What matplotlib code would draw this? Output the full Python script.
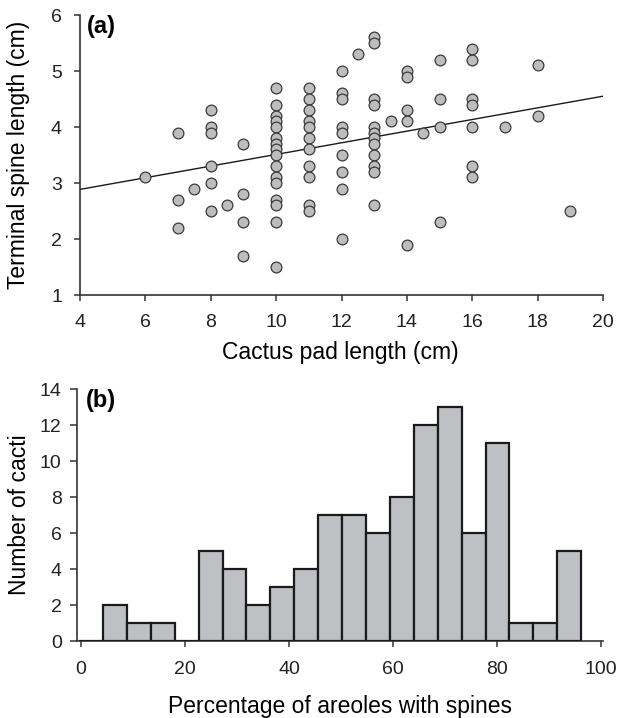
import numpy as np
import matplotlib
matplotlib.use("Agg")
import matplotlib.pyplot as plt

plt.rcParams['font.family'] = ['Liberation Sans', 'DejaVu Sans']

# (a) terminal spine length vs cactus pad length, grouped by pad length
pad_groups = [6, 7, 7.5, 8, 8.5, 9, 10, 11, 12, 12.5, 13, 13.5, 14, 14.5, 15, 16, 17, 18, 19]
spine_groups = [
    [3.1],
    [3.9, 2.7, 2.2],
    [2.9],
    [4.3, 4.0, 3.9, 3.3, 3.0, 2.5],
    [2.6],
    [3.7, 2.8, 2.3, 1.7],
    [4.7, 4.4, 4.2, 4.1, 4.0, 3.8, 3.7, 3.6, 3.5, 3.3, 3.1, 3.0, 2.7, 2.6, 2.3, 1.5],
    [4.7, 4.5, 4.3, 4.1, 4.0, 3.8, 3.6, 3.3, 3.1, 2.6, 2.5],
    [5.0, 4.6, 4.5, 4.0, 3.9, 3.5, 3.2, 2.9, 2.0],
    [5.3],
    [5.6, 5.5, 4.5, 4.4, 4.0, 3.9, 3.8, 3.7, 3.5, 3.3, 3.2, 2.6],
    [4.1],
    [5.0, 4.9, 4.3, 4.1, 1.9],
    [3.9],
    [5.2, 4.5, 4.0, 2.3],
    [5.4, 5.2, 4.5, 4.4, 4.0, 3.3, 3.1],
    [4.0],
    [5.1, 4.2],
    [2.5],
]
pad_len = np.concatenate([[x] * len(ys) for x, ys in zip(pad_groups, spine_groups)])
spine_len = np.concatenate(spine_groups)

# fitted line as drawn in the figure
fit_intercept = 2.47
fit_slope = 0.104

# (b) histogram of % areoles with spines
bin_start = -0.4
bin_width = 4.6
cacti_counts = [0, 2, 1, 1, 0, 5, 4, 2, 3, 4, 7, 7, 6, 8, 12, 13, 6, 11, 1, 1, 5]

W, H = 617, 718
fig = plt.figure(figsize=(W / 100, H / 100), dpi=100)
axc = '#333333'

ax1 = fig.add_axes([80 / W, 1 - 295 / H, 523 / W, 280 / H])
ax2 = fig.add_axes([77 / W, 1 - 641 / H, 526 / W, 252 / H])

# scatter + regression
xl = np.array([4, 20])
ax1.plot(xl, fit_intercept + fit_slope * xl, color='#1a1a1a', lw=1.0, zorder=2)
ax1.scatter(pad_len, spine_len, s=60, facecolor='#bdbdbd', edgecolor='#3a3a3a',
            linewidth=0.9, zorder=3, clip_on=False)
ax1.set_xlim(4, 20)
ax1.set_ylim(1, 6)
ax1.set_xticks(range(4, 21, 2))
ax1.set_yticks(range(1, 7))
ax1.set_xlabel('Cactus pad length (cm)', fontsize=16.5)
ax1.set_ylabel('Terminal spine length (cm)', fontsize=16.5)
ax1.xaxis.set_label_coords(0.497, -0.165)
ax1.yaxis.set_label_coords(-0.095, 0.5)
ax1.text(0.013, 1.0, '(a)', transform=ax1.transAxes, ha='left', va='top',
         fontsize=17, fontweight='bold')
ax1.tick_params(axis='x', length=4, width=1.1, pad=10, labelsize=14, color=axc)
ax1.tick_params(axis='y', length=4, width=1.1, pad=9, labelsize=14, color=axc)

# histogram
edges = bin_start + bin_width * np.arange(len(cacti_counts))
ax2.bar(edges, cacti_counts, width=bin_width, align='edge', color='#bfc0c4',
        edgecolor='#1a1a1a', linewidth=1.6, zorder=3)
ax2.set_xlim(-0.8, 100.4)
ax2.set_ylim(0, 14)
ax2.set_xticks(range(0, 101, 20))
ax2.set_yticks(range(0, 15, 2))
ax2.set_xlabel('Percentage of areoles with spines', fontsize=16.5)
ax2.set_ylabel('Number of cacti', fontsize=16.5)
ax2.xaxis.set_label_coords(0.5, -0.215)
ax2.yaxis.set_label_coords(-0.088, 0.5)
ax2.text(0.017, 1.0, '(b)', transform=ax2.transAxes, ha='left', va='top',
         fontsize=17, fontweight='bold')
ax2.tick_params(axis='x', length=4, width=1.1, pad=10.5, labelsize=14, color=axc)
ax2.tick_params(axis='y', length=5, width=1.1, pad=6, labelsize=14, color=axc)

for ax in (ax1, ax2):
    ax.spines['top'].set_visible(False)
    ax.spines['right'].set_visible(False)
    for s in ('left', 'bottom'):
        ax.spines[s].set_color(axc)
        ax.spines[s].set_linewidth(1.2)
    for lab in ax.get_xticklabels() + ax.get_yticklabels():
        lab.set_color('#222222')

fig.savefig('out.png', dpi=100)
